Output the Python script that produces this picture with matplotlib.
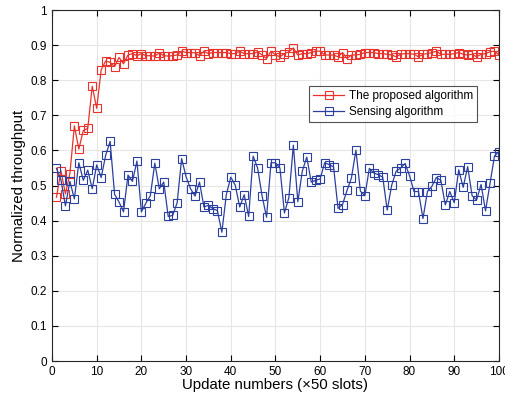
import numpy as np
import matplotlib
matplotlib.use("Agg")
import matplotlib.pyplot as plt

plt.rcParams['font.family'] = ['Liberation Sans', 'DejaVu Sans']

updates = list(range(1, 101))

proposed = [0.467, 0.542, 0.476, 0.534, 0.670, 0.604, 0.657, 0.663, 0.783, 0.720,
            0.830, 0.855, 0.851, 0.839, 0.865, 0.847, 0.872, 0.876, 0.870, 0.876,
            0.870, 0.870, 0.869, 0.878, 0.870, 0.869, 0.870, 0.872, 0.883, 0.879,
            0.879, 0.878, 0.870, 0.883, 0.876, 0.879, 0.879, 0.879, 0.879, 0.876,
            0.876, 0.883, 0.876, 0.876, 0.876, 0.881, 0.872, 0.862, 0.883, 0.872,
            0.867, 0.876, 0.881, 0.892, 0.872, 0.876, 0.876, 0.879, 0.883, 0.883,
            0.872, 0.872, 0.872, 0.867, 0.879, 0.862, 0.872, 0.872, 0.874, 0.879,
            0.879, 0.879, 0.876, 0.876, 0.874, 0.872, 0.867, 0.874, 0.876, 0.876,
            0.874, 0.867, 0.874, 0.876, 0.879, 0.883, 0.874, 0.874, 0.874, 0.876,
            0.879, 0.874, 0.872, 0.874, 0.867, 0.874, 0.876, 0.881, 0.883, 0.872]

sensing = [0.549, 0.516, 0.442, 0.512, 0.462, 0.565, 0.515, 0.544, 0.491, 0.559,
           0.523, 0.586, 0.626, 0.475, 0.453, 0.425, 0.530, 0.512, 0.570, 0.425,
           0.450, 0.471, 0.564, 0.491, 0.510, 0.412, 0.415, 0.451, 0.577, 0.525,
           0.491, 0.470, 0.510, 0.439, 0.444, 0.434, 0.429, 0.367, 0.474, 0.524,
           0.501, 0.439, 0.474, 0.412, 0.584, 0.550, 0.471, 0.410, 0.565, 0.565,
           0.550, 0.422, 0.466, 0.615, 0.454, 0.541, 0.581, 0.510, 0.515, 0.519,
           0.565, 0.560, 0.553, 0.435, 0.446, 0.486, 0.522, 0.601, 0.484, 0.471,
           0.549, 0.536, 0.531, 0.524, 0.430, 0.501, 0.541, 0.550, 0.563, 0.528,
           0.483, 0.483, 0.406, 0.483, 0.498, 0.523, 0.515, 0.445, 0.483, 0.451,
           0.545, 0.495, 0.554, 0.471, 0.459, 0.503, 0.428, 0.506, 0.584, 0.597]

red = "#e8322c"
blue = "#2b3f9f"

fig = plt.figure(figsize=(5.05, 4.03), dpi=100)
ax = fig.add_axes([0.103, 0.104, 0.885, 0.871])

ax.plot(updates, proposed, color=red, lw=0.9, marker="s", markersize=6,
        markerfacecolor="none", markeredgecolor=red, markeredgewidth=0.8,
        label="The proposed algorithm")
ax.plot(updates, sensing, color=blue, lw=0.9, marker="s", markersize=6,
        markerfacecolor="none", markeredgecolor=blue, markeredgewidth=0.8,
        label="Sensing algorithm")

ax.set_xlim(0, 100)
ax.set_ylim(0, 1)
ax.set_xticks(np.arange(0, 101, 10))
ax.set_yticks(np.arange(0, 1.01, 0.1))
ax.set_yticklabels(["0", "0.1", "0.2", "0.3", "0.4", "0.5", "0.6", "0.7", "0.8", "0.9", "1"])
ax.tick_params(direction="in", top=True, right=True, labelsize=8.5, length=4, width=0.8)
ax.grid(True, color="#e6e6e6", lw=0.8)
ax.set_axisbelow(True)
for s in ax.spines.values():
    s.set_linewidth(0.8)
    s.set_color("#262626")

ax.set_xlabel("Update numbers (\u00d750 slots)", fontsize=10.8, labelpad=0)
ax.set_ylabel("Normalized throughput", fontsize=10.8, labelpad=3)

leg = ax.legend(loc="upper left", bbox_to_anchor=(0.562, 0.8), fontsize=8.5,
                frameon=True, fancybox=False, edgecolor="#262626",
                borderpad=0.35, handlelength=2.6, labelspacing=0.3, handletextpad=0.4)
leg.get_frame().set_linewidth(0.8)

fig.savefig("out.png", dpi=100)
